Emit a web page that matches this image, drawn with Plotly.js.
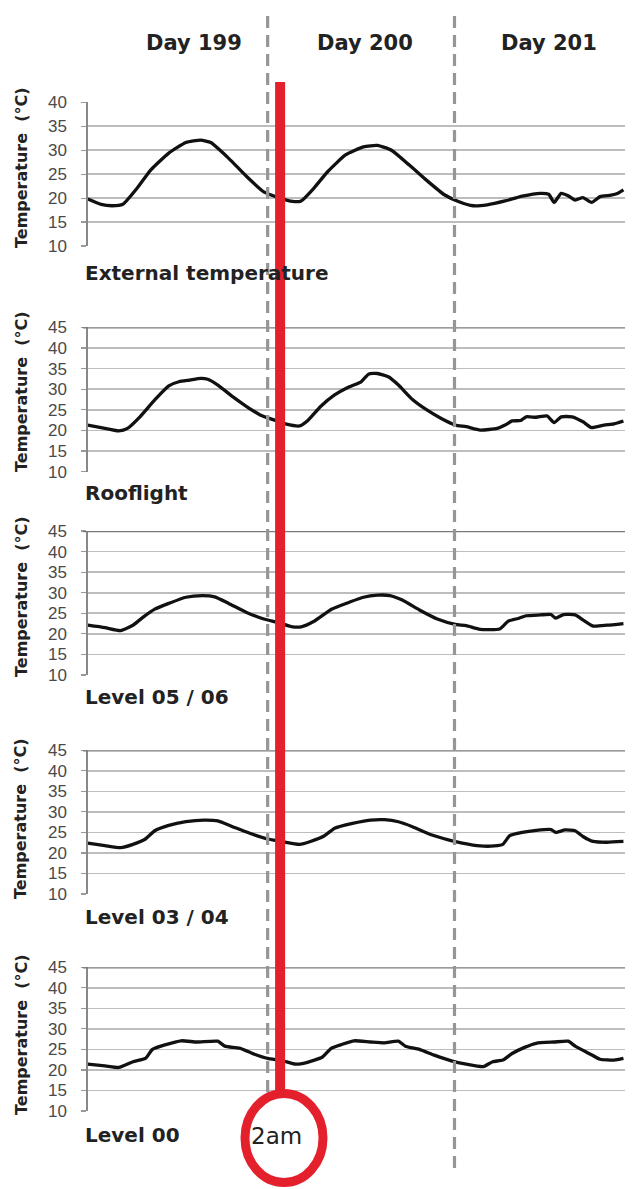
<!DOCTYPE html>
<html>
<head>
<meta charset="utf-8">
<script src="https://cdn.plot.ly/plotly-3.0.1.min.js"></script>
<style>
  html, body { margin: 0; padding: 0; background: #ffffff; }
  #chart { width: 635px; height: 1189px; }
</style>
</head>
<body>
<div id="chart"></div>
<script>
// ---- Data (hours counted from the start of Day 199) ----
const dayLabels = ["Day 199", "Day 200", "Day 201"];
const dayBoundaries = [24, 48];
const markerHour = 25.6;
const markerLabel = "2am";
const panelNames = ["External temperature", "Rooflight", "Level 05 / 06", "Level 03 / 04", "Level 00"];
const yTitle = "Temperature  (°C)";

const extHours = [0.9, 2.6, 4.0, 5.4, 7.2, 9.0, 11.3, 13.5, 15.4, 16.7, 19.0, 21.3, 23.5, 25.4, 27.2, 28.3, 29.9, 31.7, 34.0, 36.3, 38.1, 39.9, 42.2, 44.5, 46.7, 48.5, 50.4, 52.2, 54.5, 56.7, 59.0, 60.1, 60.8, 61.7, 62.6, 63.5, 64.5, 65.6, 66.7, 68.1, 69.0, 69.7];
const extTemp  = [19.8, 18.7, 18.4, 18.7, 22.0, 25.9, 29.4, 31.6, 32.1, 31.6, 28.3, 24.5, 21.3, 20.1, 19.3, 19.4, 22.0, 25.5, 29.0, 30.7, 31.0, 30.0, 26.9, 23.6, 20.7, 19.3, 18.4, 18.6, 19.4, 20.4, 21.0, 20.8, 19.1, 21.0, 20.5, 19.6, 20.1, 19.1, 20.3, 20.6, 21.0, 21.7];

const roofHours = [0.9, 2.6, 4.9, 6.0, 7.6, 9.5, 11.3, 12.6, 14.0, 15.4, 16.3, 17.6, 19.5, 21.3, 23.1, 24.9, 26.3, 28.1, 29.2, 30.8, 32.6, 34.5, 36.0, 37.0, 38.1, 39.5, 40.8, 42.6, 44.5, 46.3, 48.1, 49.5, 51.3, 53.5, 54.5, 55.4, 56.5, 57.2, 58.5, 59.9, 60.8, 61.7, 63.1, 64.5, 65.6, 67.2, 68.5, 69.7];
const roofTemp  = [21.3, 20.7, 19.9, 20.5, 23.3, 27.4, 30.8, 31.8, 32.2, 32.6, 32.4, 31.0, 28.2, 25.8, 23.7, 22.5, 21.6, 21.1, 22.5, 25.8, 28.6, 30.6, 31.8, 33.7, 33.8, 33.0, 31.0, 27.5, 24.9, 22.9, 21.3, 20.9, 20.1, 20.5, 21.3, 22.3, 22.4, 23.3, 23.2, 23.5, 21.9, 23.3, 23.3, 22.1, 20.7, 21.3, 21.6, 22.3];

const l56Hours = [0.9, 3.1, 5.1, 6.7, 8.1, 9.5, 11.3, 13.5, 15.6, 17.2, 19.0, 21.3, 23.5, 25.4, 27.2, 28.3, 29.9, 32.2, 34.5, 36.3, 38.1, 39.7, 41.3, 43.5, 45.8, 48.1, 49.5, 51.3, 53.8, 54.9, 56.3, 57.2, 59.0, 60.4, 61.0, 62.0, 63.5, 64.5, 65.8, 67.6, 69.7];
const l56Temp  = [22.1, 21.5, 20.8, 22.1, 24.2, 26.0, 27.4, 28.9, 29.3, 29.0, 27.4, 25.2, 23.6, 22.7, 21.7, 21.7, 23.0, 26.0, 27.7, 28.9, 29.4, 29.3, 28.2, 25.8, 23.6, 22.3, 22.0, 21.1, 21.2, 23.1, 23.8, 24.4, 24.6, 24.7, 23.8, 24.7, 24.6, 23.4, 21.9, 22.1, 22.5];

const l34Hours = [0.9, 3.1, 5.1, 6.7, 8.3, 9.5, 11.3, 13.5, 15.8, 17.6, 19.5, 21.7, 24.0, 25.8, 28.1, 29.5, 31.3, 32.6, 34.9, 37.2, 39.0, 40.8, 42.6, 44.9, 47.2, 49.0, 51.3, 53.1, 54.2, 55.1, 56.7, 58.5, 60.4, 61.0, 62.2, 63.5, 64.5, 65.8, 67.6, 69.7];
const l34Temp  = [22.4, 21.8, 21.3, 22.1, 23.4, 25.4, 26.7, 27.6, 28.0, 27.8, 26.4, 24.8, 23.4, 22.8, 22.1, 22.8, 24.2, 26.0, 27.2, 28.0, 28.1, 27.6, 26.4, 24.5, 23.2, 22.4, 21.7, 21.7, 22.1, 24.2, 25.0, 25.5, 25.7, 25.0, 25.6, 25.4, 24.0, 22.8, 22.6, 22.8];

const l00Hours = [0.9, 3.1, 4.9, 6.7, 8.3, 9.2, 10.8, 12.9, 14.9, 17.6, 18.5, 20.4, 22.2, 24.0, 25.8, 27.6, 29.0, 31.0, 32.2, 33.5, 35.1, 37.2, 39.0, 40.8, 41.7, 43.5, 45.4, 47.6, 49.5, 51.7, 52.9, 54.2, 55.4, 57.0, 58.5, 60.8, 62.6, 63.5, 65.4, 66.7, 68.5, 69.7];
const l00Temp  = [21.4, 21.0, 20.6, 22.0, 22.8, 25.0, 26.1, 27.1, 26.8, 27.0, 25.8, 25.3, 23.9, 22.8, 22.3, 21.4, 21.8, 23.1, 25.3, 26.2, 27.1, 26.8, 26.6, 27.0, 25.8, 25.0, 23.6, 22.2, 21.4, 20.8, 22.0, 22.4, 24.0, 25.5, 26.5, 26.8, 27.0, 25.8, 23.9, 22.6, 22.4, 22.8];

const yMaxes = [40, 45, 45, 45, 45];
const yMin = 10;

// ---- Layout geometry (pixels in a 635 x 1189 figure) ----
const W = 635, H = 1189;
const px = v => v / W;
const py = v => 1 - v / H;
const panelPx = [[102.3, 246], [327.3, 471.7], [531, 675], [750.3, 894], [967.3, 1111]];
const labelY = [273, 493, 697, 917, 1135];
const titleY = [168, 392, 597, 819, 1035];

const series = [[extHours, extTemp], [roofHours, roofTemp], [l56Hours, l56Temp], [l34Hours, l34Temp], [l00Hours, l00Temp]];
const traces = series.map((s, i) => ({
  x: s[0], y: s[1], type: 'scatter', mode: 'lines',
  xaxis: 'x', yaxis: i === 0 ? 'y' : 'y' + (i + 1),
  line: { color: '#111111', width: 3.3, shape: 'spline', smoothing: 0.5 },
  hoverinfo: 'skip', showlegend: false
}));

const layout = {
  width: W, height: H,
  margin: { l: 0, r: 0, t: 0, b: 0, pad: 0 },
  paper_bgcolor: '#ffffff', plot_bgcolor: 'rgba(0,0,0,0)',
  showlegend: false,
  xaxis: {
    domain: [px(87.8), px(625)], range: [0.9, 69.9],
    visible: false, showgrid: false, zeroline: false, anchor: 'y5'
  },
  shapes: [], annotations: []
};

panelPx.forEach((p, i) => {
  const key = i === 0 ? 'yaxis' : 'yaxis' + (i + 1);
  layout[key] = {
    domain: [py(p[1]), py(p[0])],
    range: [yMin, yMaxes[i]],
    tick0: 10, dtick: 5,
    showgrid: true, gridcolor: '#bdbdbd', gridwidth: 1.6,
    showline: true, linecolor: '#888888', linewidth: 1.5,
    ticks: 'outside', ticklen: 5, tickcolor: '#999999', tickwidth: 1.2,
    ticklabelstandoff: 11,
    tickfont: { family: 'Liberation Sans, Arial, sans-serif', size: 17, color: '#4a4a4a' },
    zeroline: false, anchor: 'x'
  };
  if (i > 0) {
    layout.shapes.push({
      type: 'line', xref: 'paper', yref: 'y' + (i + 1),
      x0: px(83), x1: px(625), y0: yMaxes[i], y1: yMaxes[i],
      line: { color: '#7a7a7a', width: 2.4 }, layer: 'above'
    });
  }
  layout.annotations.push({
    text: panelNames[i], xref: 'paper', yref: 'paper',
    x: px(83), y: py(labelY[i]), xanchor: 'left', yanchor: 'middle',
    showarrow: false,
    font: { family: 'DejaVu Sans, sans-serif', size: 20, color: '#222222', weight: 'bold' }
  });
  layout.annotations.push({
    text: yTitle, xref: 'paper', yref: 'paper', textangle: -90,
    x: px(21), y: py(titleY[i]), xanchor: 'center', yanchor: 'middle',
    showarrow: false,
    font: { family: 'DejaVu Sans, sans-serif', size: 16, color: '#222222', weight: 'bold' }
  });
});

// Day separators (dashed)
dayBoundaries.forEach(d => {
  layout.shapes.push({
    type: 'line', xref: 'x', yref: 'paper',
    x0: d, x1: d, y0: py(1168), y1: py(12),
    line: { color: '#969696', width: 3.2, dash: '12px,7px' }, layer: 'above'
  });
});

// Red 2am marker line and circle
layout.shapes.push({
  type: 'line', xref: 'x', yref: 'paper',
  x0: markerHour, x1: markerHour, y0: py(1094), y1: py(82),
  line: { color: '#e4202c', width: 10 }, layer: 'above'
});
layout.shapes.push({
  type: 'circle', xref: 'paper', yref: 'paper',
  x0: px(245), x1: px(323), y0: py(1182.5), y1: py(1093.5),
  line: { color: '#e4202c', width: 9 }, fillcolor: '#ffffff', layer: 'above'
});

// Day labels
const dayX = [194, 365, 549];
dayLabels.forEach((t, i) => {
  layout.annotations.push({
    text: t, xref: 'paper', yref: 'paper',
    x: px(dayX[i]), y: py(43), xanchor: 'center', yanchor: 'middle',
    showarrow: false,
    font: { family: 'DejaVu Sans, sans-serif', size: 21, color: '#222222', weight: 'bold' }
  });
});

layout.annotations.push({
  text: markerLabel, xref: 'paper', yref: 'paper',
  x: px(276), y: py(1136), xanchor: 'center', yanchor: 'middle',
  showarrow: false,
  font: { family: 'DejaVu Sans, sans-serif', size: 23, color: '#222222' }
});

Plotly.newPlot('chart', traces, layout, { staticPlot: true, displayModeBar: false });
</script>
</body>
</html>
